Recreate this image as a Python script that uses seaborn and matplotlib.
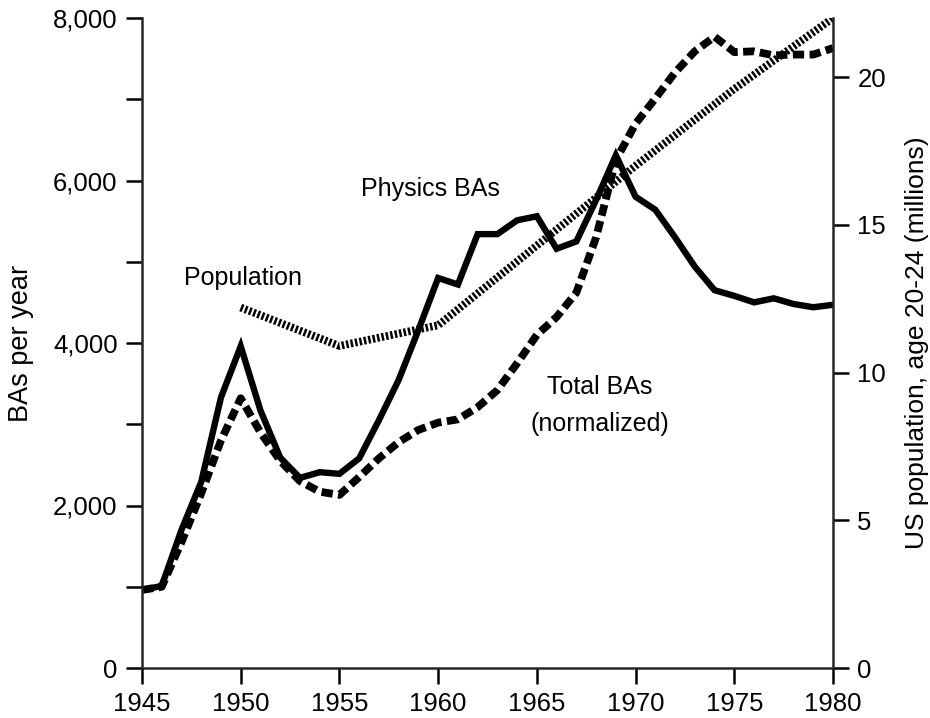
import numpy as np
import pandas as pd
import seaborn as sns
import matplotlib.pyplot as plt
from matplotlib.ticker import FuncFormatter, MultipleLocator

# data
years = list(range(1945, 1981))
physics_bas = [960, 1010, 1700, 2290, 3330, 3960, 3170, 2590, 2340, 2410, 2390,
               2580, 3050, 3545, 4160, 4800, 4720, 5340, 5340, 5510, 5560,
               5160, 5250, 5760, 6310, 5800, 5640, 5300, 4940, 4650, 4580,
               4500, 4550, 4480, 4440, 4470]
total_bas = [960, 1000, 1550, 2150, 2800, 3320, 2900, 2550, 2300, 2170, 2130,
             2350, 2580, 2780, 2930, 3020, 3060, 3210, 3420, 3750, 4100,
             4320, 4620, 5300, 6250, 6700, 7010, 7330, 7590, 7770, 7580,
             7590, 7540, 7550, 7550, 7630]
pop_years = [1950, 1955, 1960, 1965, 1970, 1975, 1980]
population = [12.2, 10.9, 11.6, 14.3, 17.0, 19.6, 22.0]

sns.set_style("ticks")
plt.rcParams['font.family'] = ['Liberation Sans', 'DejaVu Sans']
plt.rcParams['text.color'] = 'black'
plt.rcParams['axes.labelcolor'] = 'black'

df = pd.DataFrame({'year': years, 'physics': physics_bas, 'total': total_bas})
pop = pd.DataFrame({'year': pop_years, 'pop': population})

fig = plt.figure(figsize=(9.3, 7.18), dpi=100)
ax = fig.add_axes([142/930, 50/718, 691/930, 650/718])
ax2 = ax.twinx()

sns.lineplot(data=df, x='year', y='physics', ax=ax, color='black', lw=4.6,
             solid_joinstyle='miter')
sns.lineplot(data=df, x='year', y='total', ax=ax, color='black', lw=5.6,
             linestyle=(0, (1.45, 0.7)), dash_capstyle='butt')
sns.lineplot(data=pop, x='year', y='pop', ax=ax2, color='black', lw=5.6,
             linestyle=(0, (0.32, 0.26)), dash_capstyle='butt')

ax.set_xlim(1945, 1980)
ax.set_ylim(0, 8000)
ax2.set_ylim(0, 22)
ax.xaxis.set_major_locator(MultipleLocator(5))
ax.yaxis.set_major_locator(MultipleLocator(2000))
ax.yaxis.set_minor_locator(MultipleLocator(1000))
ax.yaxis.set_major_formatter(FuncFormatter(lambda v, p: f'{int(v):,}'))
ax2.yaxis.set_major_locator(MultipleLocator(5))

for a in (ax, ax2):
    a.spines['top'].set_visible(False)
    for s in ('left', 'right', 'bottom'):
        a.spines[s].set_linewidth(1.8)
    a.tick_params(which='both', width=1.8, length=11.5, labelsize=18.5,
                  colors='black', pad=6)
ax.spines['right'].set_visible(False)
ax2.spines['left'].set_visible(False)
ax2.spines['bottom'].set_visible(False)

ax.set_xlabel('')
ax.set_ylabel('BAs per year', fontsize=19.5, labelpad=14)
ax2.set_ylabel('US population, age 20-24 (millions)', fontsize=19,
               labelpad=14)

ax.text(1959.6, 5900, 'Physics BAs', fontsize=18, ha='center', va='center')
ax.text(1950.1, 4800, 'Population', fontsize=18, ha='center', va='center')
ax.text(1968.2, 3230, 'Total BAs\n(normalized)', fontsize=18, ha='center',
        va='center', linespacing=1.7)

fig.savefig('out.png', dpi=100)
